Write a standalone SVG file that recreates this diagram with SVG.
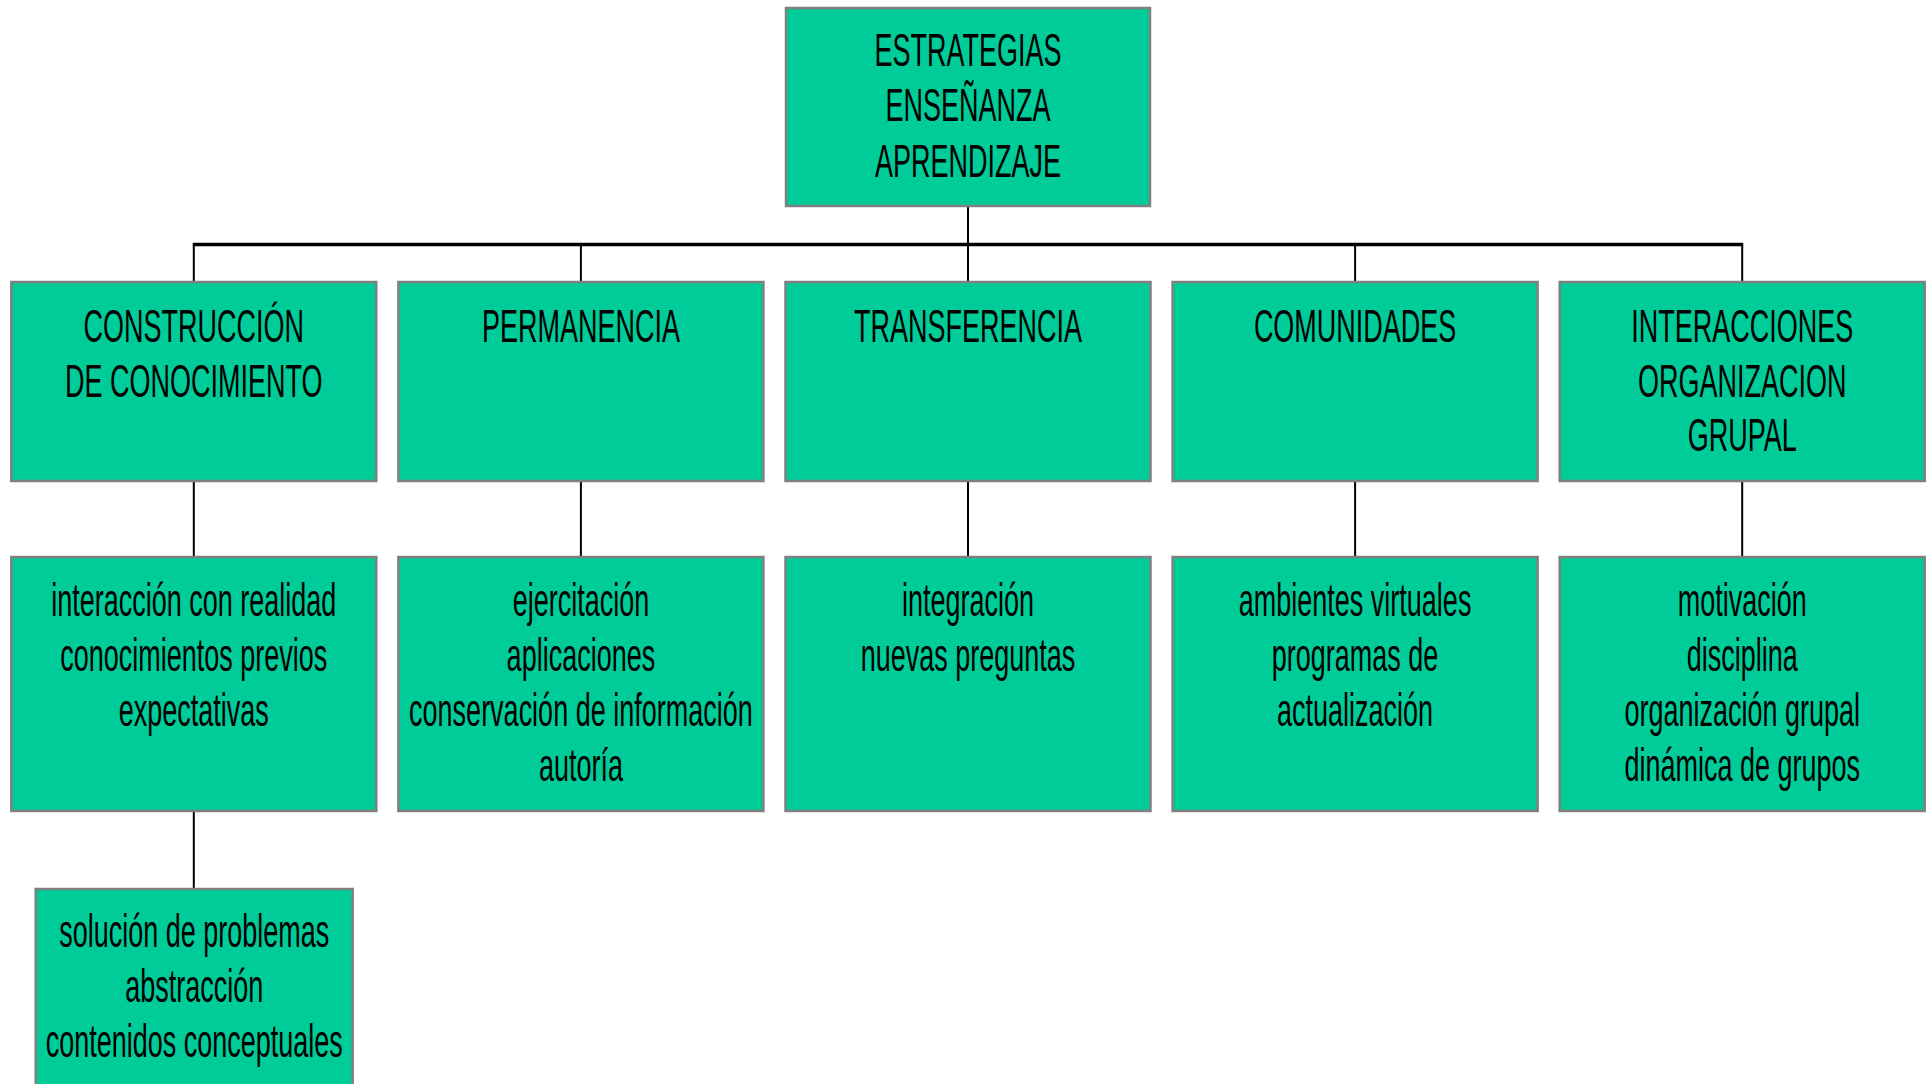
<svg xmlns="http://www.w3.org/2000/svg" width="1931" height="1084" viewBox="0 0 1931 1084">
<style>
.box{fill:#00CC99;stroke:#808080;stroke-width:2.5}
.t{font-family:"Liberation Sans",Arial,sans-serif;font-size:46px;text-anchor:middle;fill:#000}
.ln{stroke:#000;stroke-width:2;fill:none}
.bus{stroke:#000;stroke-width:3.6;fill:none}
</style>
<rect width="1931" height="1084" fill="#fff"/>
<g id="connectors">
<line class="ln" x1="968" y1="206" x2="968" y2="282"/>
<line class="bus" x1="192.8" y1="244.5" x2="1743.2" y2="244.5"/>
<line class="ln" x1="193.8" y1="244.5" x2="193.8" y2="282"/>
<line class="ln" x1="580.9" y1="244.5" x2="580.9" y2="282"/>
<line class="ln" x1="1355.1" y1="244.5" x2="1355.1" y2="282"/>
<line class="ln" x1="1742.2" y1="244.5" x2="1742.2" y2="282"/>
<line class="ln" x1="193.8" y1="481" x2="193.8" y2="557"/>
<line class="ln" x1="580.9" y1="481" x2="580.9" y2="557"/>
<line class="ln" x1="968" y1="481" x2="968" y2="557"/>
<line class="ln" x1="1355.1" y1="481" x2="1355.1" y2="557"/>
<line class="ln" x1="1742.2" y1="481" x2="1742.2" y2="557"/>
<line class="ln" x1="193.8" y1="811" x2="193.8" y2="889"/>
</g>
<g id="root">
<rect class="box" x="786" y="8" width="364" height="198"/>
<text class="t" transform="translate(968 0) scale(0.587 1)"><tspan x="0" y="66">ESTRATEGIAS</tspan><tspan x="0" y="121.5">ENSEÑANZA</tspan><tspan x="0" y="177">APRENDIZAJE</tspan></text>
</g>
<g id="construccion">
<rect class="box" x="11.3" y="282" width="365" height="199"/>
<text class="t" transform="translate(193.8 0) scale(0.587 1)"><tspan x="0" y="342">CONSTRUCCIÓN</tspan><tspan x="0" y="397">DE CONOCIMIENTO</tspan></text>
</g>
<g id="permanencia">
<rect class="box" x="398.4" y="282" width="365" height="199"/>
<text class="t" transform="translate(580.9 0) scale(0.587 1)"><tspan x="0" y="342">PERMANENCIA</tspan></text>
</g>
<g id="transferencia">
<rect class="box" x="785.5" y="282" width="365" height="199"/>
<text class="t" transform="translate(968 0) scale(0.587 1)"><tspan x="0" y="342">TRANSFERENCIA</tspan></text>
</g>
<g id="comunidades">
<rect class="box" x="1172.6" y="282" width="365" height="199"/>
<text class="t" transform="translate(1355.1 0) scale(0.587 1)"><tspan x="0" y="342">COMUNIDADES</tspan></text>
</g>
<g id="interacciones">
<rect class="box" x="1559.7" y="282" width="365" height="199"/>
<text class="t" transform="translate(1742.2 0) scale(0.587 1)"><tspan x="0" y="342">INTERACCIONES</tspan><tspan x="0" y="397">ORGANIZACION</tspan><tspan x="0" y="451">GRUPAL</tspan></text>
</g>
<g id="construccion-detalle">
<rect class="box" x="11.3" y="557" width="365" height="254"/>
<text class="t" transform="translate(193.8 0) scale(0.587 1)"><tspan x="0" y="616">interacción con realidad</tspan><tspan x="0" y="671">conocimientos previos</tspan><tspan x="0" y="726">expectativas</tspan></text>
</g>
<g id="permanencia-detalle">
<rect class="box" x="398.4" y="557" width="365" height="254"/>
<text class="t" transform="translate(580.9 0) scale(0.587 1)"><tspan x="0" y="616">ejercitación</tspan><tspan x="0" y="671">aplicaciones</tspan><tspan x="0" y="726">conservación de información</tspan><tspan x="0" y="781">autoría</tspan></text>
</g>
<g id="transferencia-detalle">
<rect class="box" x="785.5" y="557" width="365" height="254"/>
<text class="t" transform="translate(968 0) scale(0.587 1)"><tspan x="0" y="616">integración</tspan><tspan x="0" y="671">nuevas preguntas</tspan></text>
</g>
<g id="comunidades-detalle">
<rect class="box" x="1172.6" y="557" width="365" height="254"/>
<text class="t" transform="translate(1355.1 0) scale(0.587 1)"><tspan x="0" y="616">ambientes virtuales</tspan><tspan x="0" y="671">programas de</tspan><tspan x="0" y="726">actualización</tspan></text>
</g>
<g id="interacciones-detalle">
<rect class="box" x="1559.7" y="557" width="365" height="254"/>
<text class="t" transform="translate(1742.2 0) scale(0.587 1)"><tspan x="0" y="616">motivación</tspan><tspan x="0" y="671">disciplina</tspan><tspan x="0" y="726">organización grupal</tspan><tspan x="0" y="781">dinámica de grupos</tspan></text>
</g>
<g id="construccion-solucion">
<rect class="box" x="35.7" y="889" width="317" height="210"/>
<text class="t" transform="translate(194.2 0) scale(0.587 1)"><tspan x="0" y="947">solución de problemas</tspan><tspan x="0" y="1002">abstracción</tspan><tspan x="0" y="1057">contenidos conceptuales</tspan></text>
</g>
</svg>
